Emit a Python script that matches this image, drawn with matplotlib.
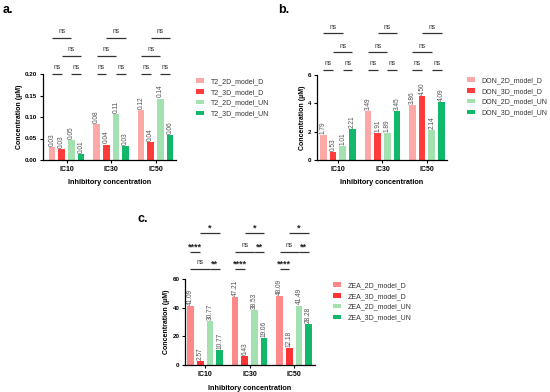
import numpy as np
import matplotlib
matplotlib.use("Agg")
import matplotlib.pyplot as plt

plt.rcParams['font.family'] = ['Liberation Sans', 'DejaVu Sans']

# data
groups = ['IC10', 'IC30', 'IC50']

t2_names = ['T2_2D_model_D', 'T2_3D_model_D', 'T2_2D_model_UN', 'T2_3D_model_UN']
t2_2d_d = [0.031, 0.084, 0.116]
t2_3d_d = [0.026, 0.036, 0.041]
t2_2d_un = [0.046, 0.108, 0.143]
t2_3d_un = [0.014, 0.033, 0.057]

don_names = ['DON_2D_model_D', 'DON_3D_model_D', 'DON_2D_model_UN', 'DON_3D_model_UN']
don_2d_d = [1.79, 3.49, 3.86]
don_3d_d = [0.53, 1.91, 4.50]
don_2d_un = [1.01, 1.89, 2.14]
don_3d_un = [2.21, 3.45, 4.09]

zea_names = ['ZEA_2D_model_D', 'ZEA_3D_model_D', 'ZEA_2D_model_UN', 'ZEA_3D_model_UN']
zea_2d_d = [41.09, 47.21, 48.09]
zea_3d_d = [2.57, 6.43, 12.18]
zea_2d_un = [30.77, 38.53, 41.49]
zea_3d_un = [10.77, 19.06, 28.28]

# significance: (group, bar_i, bar_j, row, text)
t2_sig = [(0, 0, 1, 0, 'ns'), (0, 2, 3, 0, 'ns'), (0, 1, 3, 1, 'ns'), (0, 0, 2, 2, 'ns'),
          (1, 0, 1, 0, 'ns'), (1, 2, 3, 0, 'ns'), (1, 0, 2, 1, 'ns'), (1, 1, 3, 2, 'ns'),
          (2, 0, 1, 0, 'ns'), (2, 2, 3, 0, 'ns'), (2, 0, 2, 1, 'ns'), (2, 1, 3, 2, 'ns')]
don_sig = t2_sig
zea_sig = [(0, 0, 2, 0, 'ns'), (0, 2, 3, 0, '**'), (0, 0, 1, 1, '****'), (0, 1, 3, 2, '*'),
           (1, 0, 1, 0, '****'), (1, 0, 2, 1, 'ns'), (1, 2, 3, 1, '**'), (1, 1, 3, 2, '*'),
           (2, 0, 1, 0, '****'), (2, 0, 2, 1, 'ns'), (2, 2, 3, 1, '**'), (2, 1, 3, 2, '*')]

colors_ab = ['#FFA8A8', '#FF3B3B', '#A3E2B0', '#12B86A']
colors_c = ['#FF8888', '#FF3333', '#A3E2B0', '#12B86A']

W, H = 550, 392
fig = plt.figure(figsize=(W / 100, H / 100), dpi=100)


def px_axes(x0, x1, y0, y1):
    return fig.add_axes([x0 / W, 1 - y1 / H, (x1 - x0) / W, (y1 - y0) / H])


def panel(ax, series, names, colors, sig, ylim, yticks, yfmt, rows, fmt, xlim, leg_xy):
    pitch = 0.218
    width = 0.15
    x = np.arange(len(groups))
    for i, vals in enumerate(series):
        xs = x + (i - 1.5) * pitch
        ax.bar(xs, vals, width, color=colors[i], label=names[i], zorder=2)
        for xx, v in zip(xs, vals):
            ax.text(xx, v + (ylim[1] * 0.012), fmt.format(v), rotation=90,
                    ha='center', va='bottom', fontsize=4.7, color='#505050')
    for g, i, j, r, txt in sig:
        xa = g + (i - 1.5) * pitch
        xb = g + (j - 1.5) * pitch
        y = rows[r]
        ax.plot([xa, xb], [y, y], color='#333333', lw=0.9, clip_on=False,
                solid_capstyle='butt')
        if txt == 'ns':
            ax.text((xa + xb) / 2, y + ylim[1] * 0.03, txt, ha='center', va='bottom',
                    fontsize=4.8, color='#333333')
        else:
            ax.text((xa + xb) / 2, y + ylim[1] * 0.005, txt, ha='center', va='bottom',
                    fontsize=6.5, fontweight='bold', color='#222222')
    ax.set_xlim(*xlim)
    ax.set_ylim(*ylim)
    ax.set_yticks(yticks)
    ax.set_yticklabels([yfmt.format(t) for t in yticks], fontsize=4.5, fontweight='bold')
    ax.set_xticks(x)
    ax.set_xticklabels(groups, fontsize=5, fontweight='bold')
    ax.spines['top'].set_visible(False)
    ax.spines['right'].set_visible(False)
    ax.spines['left'].set_linewidth(0.9)
    ax.spines['bottom'].set_linewidth(0.9)
    ax.tick_params(axis='both', length=2.5, width=0.8, pad=1.5)
    ax.set_ylabel('Concentration (µM)', fontsize=5, fontweight='bold', labelpad=1.5)
    ax.set_xlabel('Inhibitory concentration', fontsize=5.2, fontweight='bold', labelpad=5)
    ax.legend(loc='upper left', bbox_to_anchor=(leg_xy[0] / W, 1 - leg_xy[1] / H),
              bbox_transform=fig.transFigure, frameon=False, fontsize=5,
              handlelength=1.2, handleheight=0.6, handletextpad=0.9,
              labelspacing=0.55, borderaxespad=0, borderpad=0,
              labelcolor='#333333')


ax_a = px_axes(43, 176, 74, 160)
panel(ax_a, [t2_2d_d, t2_3d_d, t2_2d_un, t2_3d_un], t2_names, colors_ab, t2_sig,
      (0, 0.2), [0, 0.05, 0.10, 0.15, 0.20], '{:.2f}', [0.201, 0.242, 0.284],
      '{:.2f}', (-0.53, 2.46), (196, 78))

ax_b = px_axes(317, 447, 75, 160)
panel(ax_b, [don_2d_d, don_3d_d, don_2d_un, don_3d_un], don_names, colors_ab, don_sig,
      (0, 6), [0, 2, 4, 6], '{:d}', [6.35, 7.6, 8.95],
      '{:.2f}', (-0.47, 2.45), (467, 77))

ax_c = px_axes(185, 315, 279, 365)
panel(ax_c, [zea_2d_d, zea_3d_d, zea_2d_un, zea_3d_un], zea_names, colors_c, zea_sig,
      (0, 60), [0, 20, 40, 60], '{:d}', [67, 79, 92],
      '{:.2f}', (-0.45, 2.47), (333, 282))

fig.text(3 / W, 1 - 4 / H, 'a.', fontsize=9, fontweight='bold', va='top')
fig.text(278 / W, 1 - 4 / H, 'b.', fontsize=9, fontweight='bold', va='top')
fig.text(137 / W, 1 - 213 / H, 'c.', fontsize=9, fontweight='bold', va='top')

fig.savefig('out.png', dpi=100)
